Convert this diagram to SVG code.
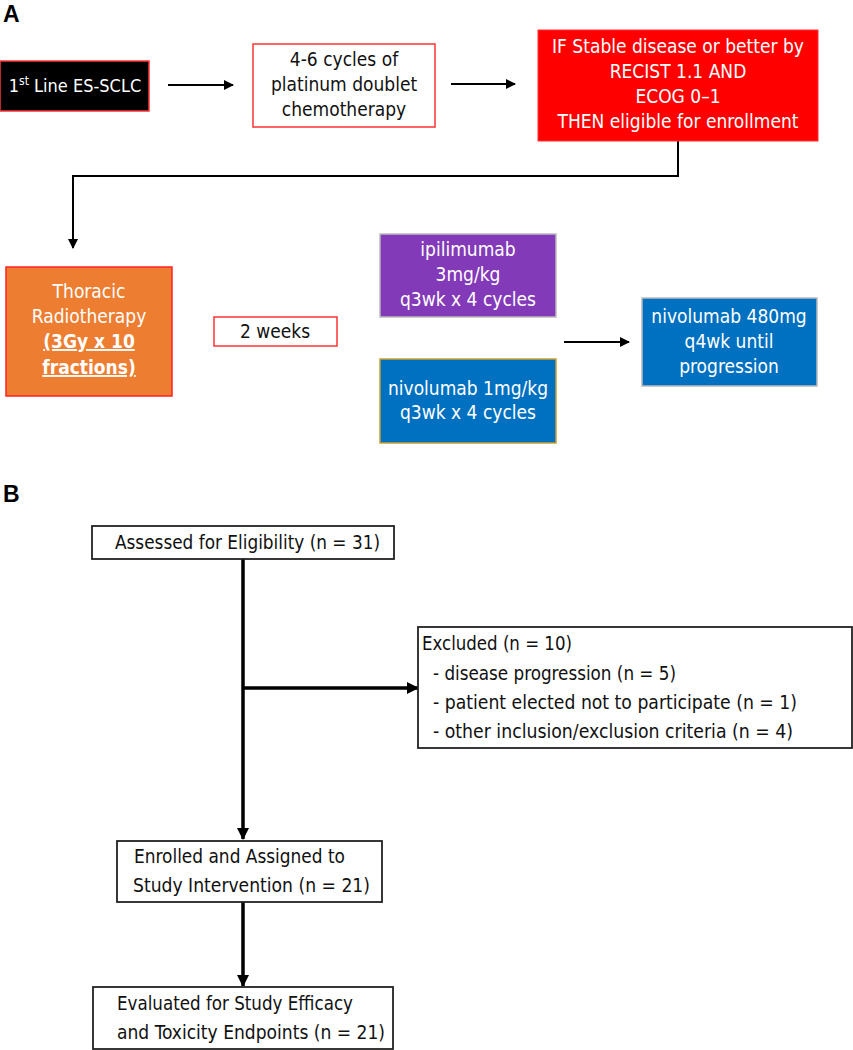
<svg xmlns="http://www.w3.org/2000/svg" width="853" height="1050" viewBox="0 0 853 1050">
<style>
text{font-family:"DejaVu Sans Condensed","Liberation Sans",sans-serif}
.a{font-size:19px;text-anchor:middle}
.w{fill:#fff}
.k{fill:#111}
.b{font-size:20px;fill:#111}
.lbl{font-size:23px;font-weight:bold;font-family:"Liberation Sans",sans-serif}
.box{fill:#fff;stroke:#222;stroke-width:1.8}
.ca{stroke:#000;stroke-width:2;fill:none}
.cb{stroke:#000;stroke-width:3.5;fill:none}
</style>
<defs>
<marker id="ma" markerWidth="10" markerHeight="10" refX="9" refY="5" orient="auto" markerUnits="userSpaceOnUse"><path d="M0,0 L10,5 L0,10 Z" fill="#000"/></marker>
<marker id="mb" markerWidth="12" markerHeight="12" refX="11" refY="6" orient="auto" markerUnits="userSpaceOnUse"><path d="M0,0 L12,6 L0,12 Z" fill="#000"/></marker>
</defs>
<rect width="853" height="1050" fill="#fff"/>
<text x="3" y="22" class="lbl">A</text>
<text x="3" y="502" class="lbl">B</text>

<g id="connectors">
<line x1="168" y1="85" x2="233" y2="85" class="ca" marker-end="url(#ma)"/>
<line x1="451" y1="84" x2="515" y2="84" class="ca" marker-end="url(#ma)"/>
<polyline points="678,141 678,176 73,176 73,248" class="ca" marker-end="url(#ma)"/>
<line x1="564" y1="342" x2="629" y2="342" class="ca" marker-end="url(#ma)"/>
<line x1="243" y1="559" x2="243" y2="839" class="cb" marker-end="url(#mb)"/>
<line x1="243" y1="688" x2="418" y2="688" class="cb" marker-end="url(#mb)"/>
<line x1="243" y1="902" x2="243" y2="986" class="cb" marker-end="url(#mb)"/>
</g>

<g id="n1">
<rect x="0" y="61" width="149" height="50" fill="#000" stroke="#f33" stroke-width="1.5"/>
<text x="75" y="92" class="a w" font-size="18" style="font-size:18px">1<tspan font-size="12" style="font-size:12px" dy="-7">st</tspan><tspan dy="7"> Line ES-SCLC</tspan></text>
</g>
<g id="n2">
<rect x="253" y="44" width="182" height="83" fill="#fff" stroke="#f33" stroke-width="1.5"/>
<text class="a k"><tspan x="344" y="66">4-6 cycles of</tspan><tspan x="344" y="91">platinum doublet</tspan><tspan x="344" y="116">chemotherapy</tspan></text>
</g>
<g id="n3">
<rect x="538" y="30" width="280" height="111" fill="#f00" stroke="#f33" stroke-width="1"/>
<text class="a w"><tspan x="678" y="53">IF Stable disease or better by</tspan><tspan x="678" y="78">RECIST 1.1 AND</tspan><tspan x="678" y="103">ECOG 0–1</tspan><tspan x="678" y="128">THEN eligible for enrollment</tspan></text>
</g>
<g id="n4">
<rect x="6" y="267" width="166" height="129" fill="#ED7D31" stroke="#f22" stroke-width="1.5"/>
<text class="a w"><tspan x="89" y="298">Thoracic</tspan><tspan x="89" y="323">Radiotherapy</tspan><tspan x="89" y="348" font-weight="bold" text-decoration="underline">(3Gy x 10</tspan><tspan x="89" y="374" font-weight="bold" text-decoration="underline">fractions)</tspan></text>
</g>
<g id="n5">
<rect x="214" y="317" width="123" height="29" fill="#fff" stroke="#f33" stroke-width="1.5"/>
<text x="275" y="338" class="a k">2 weeks</text>
</g>
<g id="n6">
<rect x="380" y="234" width="176" height="83" fill="#833AB8" stroke="#bbb" stroke-width="1.5"/>
<text class="a w"><tspan x="468" y="256">ipilimumab</tspan><tspan x="468" y="281">3mg/kg</tspan><tspan x="468" y="306">q3wk x 4 cycles</tspan></text>
</g>
<g id="n7">
<rect x="380" y="359" width="176" height="84" fill="#0070C0" stroke="#C9A030" stroke-width="1.5"/>
<text class="a w"><tspan x="468" y="395">nivolumab 1mg/kg</tspan><tspan x="468" y="419">q3wk x 4 cycles</tspan></text>
</g>
<g id="n8">
<rect x="642" y="298" width="175" height="88" fill="#0070C0" stroke="#bbb" stroke-width="1.5"/>
<text class="a w"><tspan x="729" y="323">nivolumab 480mg</tspan><tspan x="729" y="348">q4wk until</tspan><tspan x="729" y="373">progression</tspan></text>
</g>

<g id="b1">
<rect x="92" y="526" width="302" height="33" class="box"/>
<text x="115" y="549" class="b" textLength="265" lengthAdjust="spacingAndGlyphs">Assessed for Eligibility (n = 31)</text>
</g>
<g id="b2">
<rect x="418" y="627" width="434" height="121" class="box"/>
<text x="422" y="650" class="b" textLength="150" lengthAdjust="spacingAndGlyphs">Excluded (n = 10)</text>
<text x="433" y="680" class="b" textLength="243" lengthAdjust="spacingAndGlyphs">- disease progression (n = 5)</text>
<text x="433" y="709" class="b" textLength="364" lengthAdjust="spacingAndGlyphs">- patient elected not to participate (n = 1)</text>
<text x="433" y="738" class="b" textLength="360" lengthAdjust="spacingAndGlyphs">- other inclusion/exclusion criteria (n = 4)</text>
</g>
<g id="b3">
<rect x="117" y="841" width="265" height="61" class="box"/>
<text x="134" y="863" class="b" textLength="211" lengthAdjust="spacingAndGlyphs">Enrolled and Assigned to</text>
<text x="133" y="892" class="b" textLength="237" lengthAdjust="spacingAndGlyphs">Study Intervention (n = 21)</text>
</g>
<g id="b4">
<rect x="93" y="987" width="300" height="62" class="box"/>
<text x="117" y="1010" class="b" textLength="236" lengthAdjust="spacingAndGlyphs">Evaluated for Study Efficacy</text>
<text x="117" y="1039" class="b" textLength="268" lengthAdjust="spacingAndGlyphs">and Toxicity Endpoints (n = 21)</text>
</g>
</svg>
